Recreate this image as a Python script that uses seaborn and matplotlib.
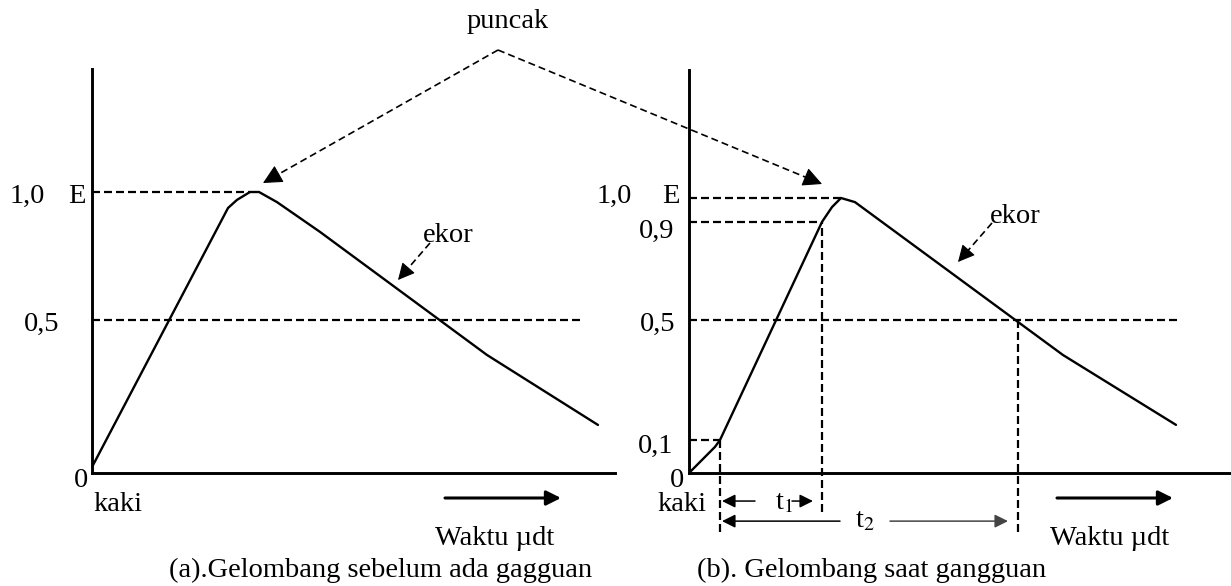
import matplotlib
matplotlib.use("Agg")
import matplotlib.pyplot as plt
from matplotlib.patches import FancyArrowPatch
from matplotlib.lines import Line2D
import seaborn as sns
import pandas as pd
import numpy as np

# ---------------------------------------------------------------
# data
# time: arbitrary units (0 = vertical axis), amplitude: 1.0 = E
# ---------------------------------------------------------------

# (a) wave before the disturbance
WAVE_A_T = [0.1, 13.6, 14.5, 15.8, 16.7, 18.5, 22.8, 39.5, 50.6]
WAVE_A_V = [0.028, 0.943, 0.972, 1.0, 1.0, 0.964, 0.858, 0.42, 0.171]

# (b) wave during the disturbance
WAVE_B_T = [0.0, 2.6, 3.1, 13.3, 14.3, 15.2, 16.6, 37.4, 48.7]
WAVE_B_V = [0.0, 0.095, 0.12, 0.913, 0.967, 1.0, 0.985, 0.429, 0.175]

# horizontal guide levels (value, end time)
LEVELS_A = [1.0, 0.545]
LEVELS_A_END = [15.8, 49.1]
LEVELS_B = [1.0, 0.913, 0.556, 0.12]
LEVELS_B_END = [15.2, 13.3, 48.9, 3.1]

# front times in (b): 10 %, 90 % and the 50 % point on the tail
T_10 = 3.1
T_90 = 13.3
T_50 = 32.9

FS = 20.5
W, H = 1231, 586

sns.set_theme(style="white")
plt.rcParams['font.family'] = ['Liberation Serif', 'DejaVu Serif']
plt.rcParams['mathtext.fontset'] = 'stix'

fig = plt.figure(figsize=(W / 100, H / 100), dpi=100)
fig.patch.set_facecolor('white')


def fpos(x, y):
    """pixel position -> figure fraction"""
    return x / W, 1 - y / H


def label(x, y, s, **kw):
    fig.text(*fpos(x, y), s, fontsize=FS, va='baseline', ha='left', color='black', **kw)


def dashed_arrow(p0, p1, head_px, ms, lw=1.2):
    """dashed shaft with a solid filled head, given in picture pixels"""
    p0 = np.array(p0, float)
    p1 = np.array(p1, float)
    d = (p1 - p0) / np.linalg.norm(p1 - p0)
    back = p1 - d * head_px
    xs, ys = zip(fpos(*p0), fpos(*back))
    fig.add_artist(Line2D(xs, ys, transform=fig.transFigure, color='black', lw=lw,
                          linestyle=(0, (4.2, 2.4))))
    fig.add_artist(FancyArrowPatch(fpos(*(back - d * 2)), fpos(*p1), transform=fig.transFigure,
                                   arrowstyle='-|>', color='black', lw=0.8, mutation_scale=ms,
                                   shrinkA=0, shrinkB=0))


def make_axes(x0, x1, y_top, y_axis, px_per_t, px_per_v):
    ax = fig.add_axes([x0 / W, 1 - y_axis / H, (x1 - x0) / W, (y_axis - y_top) / H])
    ax.set_xlim(0, (x1 - x0) / px_per_t)
    ax.set_ylim(0, (y_axis - y_top) / px_per_v)
    ax.set_facecolor('none')
    ax.set_xticks([])
    ax.set_yticks([])
    for side in ['top', 'right']:
        ax.spines[side].set_visible(False)
    for side in ['left', 'bottom']:
        ax.spines[side].set_color('black')
        ax.spines[side].set_linewidth(2.1)
    return ax


ax_a = make_axes(92, 615, 69, 473, 10, 281)
ax_b = make_axes(689, 1230, 70, 473, 10, 275)

GUIDE = dict(color='black', lw=1.6, linestyle=(0, (3.6, 1.8)))

# waves
df_a = pd.DataFrame({'t': WAVE_A_T, 'v': WAVE_A_V})
df_b = pd.DataFrame({'t': WAVE_B_T, 'v': WAVE_B_V})
sns.lineplot(data=df_a, x='t', y='v', ax=ax_a, color='black', lw=1.7, estimator=None, sort=False)
sns.lineplot(data=df_b, x='t', y='v', ax=ax_b, color='black', lw=1.7, estimator=None, sort=False)
for ax in (ax_a, ax_b):
    ax.set_xlabel('')
    ax.set_ylabel('')

# dashed guides
for lev, end in zip(LEVELS_A, LEVELS_A_END):
    ax_a.hlines(lev, 0, end, **GUIDE)
for lev, end in zip(LEVELS_B, LEVELS_B_END):
    ax_b.hlines(lev, 0, end, **GUIDE)

ax_b.vlines(T_10, -0.215, LEVELS_B[3], clip_on=False, **GUIDE)
ax_b.vlines(T_90, -0.142, LEVELS_B[1], clip_on=False, **GUIDE)
ax_b.vlines(T_50, -0.215, LEVELS_B[2], clip_on=False, **GUIDE)

# t1 / t2 arrows
THIN = dict(arrowstyle='-|>', color='black', lw=1.1, mutation_scale=20, shrinkA=0, shrinkB=0)
ax_b.annotate('', xy=(T_10 + 0.2, -0.102), xytext=(6.6, -0.102), arrowprops=THIN, annotation_clip=False)
ax_b.annotate('', xy=(12.4, -0.102), xytext=(10.3, -0.102), arrowprops=THIN, annotation_clip=False)
ax_b.annotate('', xy=(T_10 + 0.2, -0.175), xytext=(15.1, -0.175), arrowprops=THIN, annotation_clip=False)
ax_b.annotate('', xy=(31.9, -0.175), xytext=(20.1, -0.175), arrowprops=dict(THIN, color='#444444'),
              annotation_clip=False)
label(775, 509, r't$_{1}$')
label(855, 527, r't$_{2}$')

# "puncak" arrows
dashed_arrow((498, 50), (263, 183), 16, 30)
dashed_arrow((498, 50), (822, 184), 16, 30)
label(467, 28, 'puncak')

# "ekor" arrows
dashed_arrow((430, 243), (398, 280), 13, 26)
dashed_arrow((992, 223), (958, 262), 13, 26)
label(423, 242, 'ekor')
label(990, 223, 'ekor')

# time arrows
BOLD = dict(arrowstyle='-|>', color='black', lw=2.2, mutation_scale=22, shrinkA=0, shrinkB=0)
fig.add_artist(FancyArrowPatch(fpos(445, 498), fpos(561, 498), transform=fig.transFigure, **BOLD))
fig.add_artist(FancyArrowPatch(fpos(1057, 498), fpos(1173, 498), transform=fig.transFigure, **BOLD))
label(435, 545, 'Waktu µdt')
label(1050, 545, 'Waktu µdt')

# level labels, panel (a)
label(10, 203, '1,0')
label(68, 203, 'E')
label(24, 331, '0,5')
label(74, 487, '0')
label(93, 511, 'kaki')

# level labels, panel (b)
label(597, 203, '1,0')
label(662, 203, 'E')
label(639, 238, '0,9')
label(640, 331, '0,5')
label(638, 453, '0,1')
label(670, 487, '0')
label(657, 511, 'kaki')

# captions
label(169, 577, '(a).Gelombang sebelum ada gagguan')
label(697, 577, '(b). Gelombang saat gangguan')

fig.savefig('out.png', dpi=100, facecolor='white')
